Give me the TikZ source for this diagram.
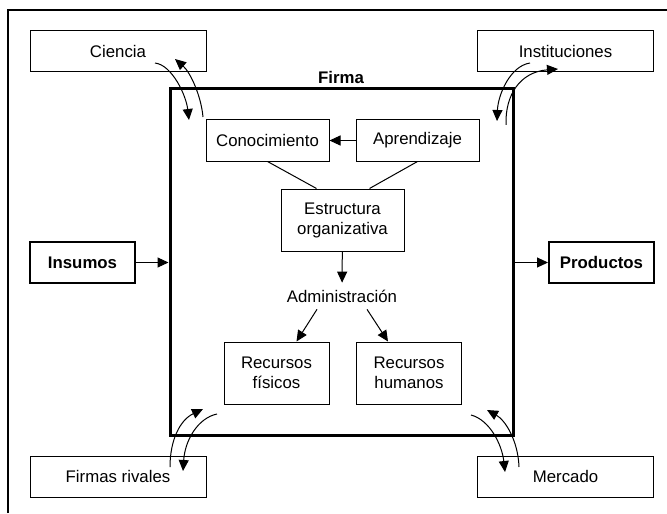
\documentclass[tikz,border=0pt]{standalone}
\usepackage{fontspec}
\setmainfont{Liberation Sans}
\usepackage{tikz}
\usetikzlibrary{arrows.meta,calc,positioning}
\tikzset{
    box/.style={draw, line width=0.5pt, minimum width=61.5pt, minimum height=20.5pt, inner sep=1pt, align=center},
    outbox/.style={box, minimum width=88pt},
    keybox/.style={box, line width=1pt, minimum width=52.5pt, font=\fontsize{8.4}{10}\selectfont\bfseries},
    resbox/.style={box, minimum width=52.5pt, minimum height=31pt}
}

\begin{document}
\begin{tikzpicture}[
  x=0.5pt, y=-0.5pt,
  >={Triangle[length=5.5pt,width=5pt]},
  every node/.style={text=black, font=\fontsize{8.4}{10}\selectfont},
  conn/.style={->, line width=0.5pt, draw=black},
  swirl/.style={->, line width=0.5pt, draw=black}
]
\useasboundingbox (0,0) rectangle (667,513);

% ---- outer frame ----
\draw[line width=0.6pt] (8,513) -- (8,10) -- (667,10);

% ---- the firm ----
\node[draw, line width=1.5pt, minimum width=171.5pt, minimum height=173pt] (firm) at (341.5,262) {};
\node[font=\fontsize{8.4}{10}\selectfont\bfseries] (firmlbl) at (341,77) {Firma};

% ---- environment (corners) ----
\node[outbox] (Cien) at (118,51) {Ciencia};
\node[outbox] (Inst) at (565.5,51) {Instituciones};
\node[outbox] (Rival) at (118,476.5) {Firmas rivales};
\node[outbox] (Merc) at (565.5,476.5) {Mercado};

% ---- inputs / outputs ----
\node[keybox] (Ins) at (82.5,262.5) {Insumos};
\node[keybox] (Prod) at (601.5,262.5) {Productos};

% ---- inside the firm ----
\node[box] (Conoc) at (267.5,140.5) {Conocimiento};
\node[box] (Aprend) at (417.5,140.5) {Aprendizaje};
\node[box, minimum height=31pt] (Estr) at (342.5,220) {Estructura\\organizativa};
\node (Admin) at (342,296) {Administración};
\node[resbox] (RFis) at (276.5,373) {Recursos\\físicos};
\node[resbox] (RHum) at (409,373) {Recursos\\humanos};

% ---- edges inside ----
\draw[conn] (Aprend) -- (Conoc);
\draw[line width=0.5pt] (Conoc.south) -- ([xshift=18pt]Estr.north west);
\draw[line width=0.5pt] (Aprend.south) -- ([xshift=-17.5pt]Estr.north east);
\draw[conn] (Estr) -- (Admin);
\draw[conn] ([xshift=-12.5pt]Admin.south) -- ([xshift=-16.5pt]RFis.north east);
\draw[conn] ([xshift=12.5pt]Admin.south) -- ([xshift=16pt]RHum.north west);

% ---- edges: in and out ----
\draw[conn] (Ins) -- (firm.west |- Ins);
\draw[conn] (firm.east |- Prod) -- (Prod);

% ---- exchanges with the environment ----
\coordinate (ci1) at (155,63);  \coordinate (ci2) at (189,120);
\coordinate (ci3) at (203,117); \coordinate (ci4) at (175,59);
\draw[swirl] (ci1) .. controls (172,65) and (186,95) .. (ci2);
\draw[swirl] (ci3) .. controls (201,95) and (190,72) .. (ci4);

\coordinate (in1) at (530,63);  \coordinate (in2) at (497,121);
\coordinate (in3) at (506,125); \coordinate (in4) at (558,69);
\draw[swirl] (in1) .. controls (510,66) and (498,95) .. (in2);
\draw[swirl] (in3) .. controls (505,95) and (520,72) .. (in4);

\coordinate (fr1) at (170,467); \coordinate (fr2) at (203,409);
\coordinate (fr3) at (217,414); \coordinate (fr4) at (183,471);
\draw[swirl] (fr1) .. controls (170,440) and (180,420) .. (fr2);
\draw[swirl] (fr3) .. controls (198,418) and (185,440) .. (fr4);

\coordinate (me1) at (471,415); \coordinate (me2) at (505,472);
\coordinate (me3) at (519,467); \coordinate (me4) at (487,410);
\draw[swirl] (me1) .. controls (490,420) and (502,445) .. (me2);
\draw[swirl] (me3) .. controls (518,440) and (505,420) .. (me4);

\end{tikzpicture}
\end{document}
